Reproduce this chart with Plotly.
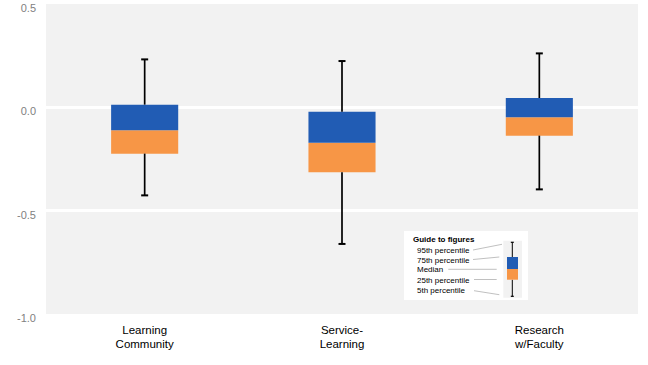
import plotly.graph_objects as go

# ---- data ----
categories = ["Learning<br>Community", "Service-<br>Learning", "Research<br>w/Faculty"]
p95 = [0.232, 0.224, 0.261]
q3 = [0.013, -0.021, 0.045]
median = [-0.111, -0.171, -0.048]
q1 = [-0.224, -0.314, -0.137]
p5 = [-0.426, -0.661, -0.397]
y_ticks = [0.5, 0.0, -0.5, -1.0]
y_tick_text = ["0.5", "0.0", "-0.5", "-1.0"]
guide_labels = ["95th percentile", "75th percentile", "Median", "25th percentile", "5th percentile"]

BLUE = "rgb(33,92,180)"
ORANGE = "rgb(247,150,70)"
W, H = 648, 365
ML, MR, MT, MB = 46, 10, 4, 51
PW, PH = W - ML - MR, H - MT - MB

fig = go.Figure()

# lower box half (Q1 -> median)
fig.add_trace(go.Bar(x=categories, y=[m - a for m, a in zip(median, q1)], base=q1,
                     marker=dict(color=ORANGE, line=dict(width=0)), width=0.34,
                     showlegend=False, hoverinfo="skip"))
# upper box half (median -> Q3)
fig.add_trace(go.Bar(x=categories, y=[b - m for b, m in zip(q3, median)], base=median,
                     marker=dict(color=BLUE, line=dict(width=0)), width=0.34,
                     showlegend=False, hoverinfo="skip"))

# whiskers
wx, wy = [], []
for c, a, b, c1, c2 in zip(categories, q3, p95, q1, p5):
    wx += [c, c, None, c, c, None]
    wy += [a, b, None, c1, c2, None]
fig.add_trace(go.Scatter(x=wx, y=wy, mode="lines", line=dict(color="black", width=1.7),
                         connectgaps=False, showlegend=False, hoverinfo="skip"))
# caps
fig.add_trace(go.Scatter(x=categories + categories, y=p95 + p5, mode="markers",
                         marker=dict(symbol="line-ew", size=5, line=dict(color="black", width=2)),
                         showlegend=False, hoverinfo="skip"))

# ---- guide inset (paper coordinates from pixel positions) ----
def px(x):
    return (x - ML) / PW

def py(y):
    return (H - MB - y) / PH

shapes = []
def rect(x0, y0, x1, y1, color):
    shapes.append(dict(type="rect", xref="paper", yref="paper", x0=px(x0), x1=px(x1),
                       y0=py(y1), y1=py(y0), fillcolor=color, line=dict(width=0), layer="above"))

def line(x0, y0, x1, y1, color, width):
    shapes.append(dict(type="line", xref="paper", yref="paper", x0=px(x0), x1=px(x1),
                       y0=py(y0), y1=py(y1), line=dict(color=color, width=width), layer="above"))

rect(404, 231, 528, 300, "white")
rect(503.3, 240.7, 522, 297.7, "#f2f2f2")
line(512.3, 242.3, 512.3, 257, "black", 1)
line(512.3, 279.7, 512.3, 296.3, "black", 1)
line(510.8, 242.3, 513.8, 242.3, "black", 1.2)
line(510.8, 296.3, 513.8, 296.3, "black", 1.2)
rect(507, 257, 518, 269, BLUE)
rect(507, 269, 518, 279.7, ORANGE)
conn = [(473, 250, 502, 244.3), (473, 259.5, 499.3, 257), (448.3, 269.3, 496.7, 269.3),
        (474, 279.5, 496.7, 279.5), (474, 290.7, 499.3, 294.7)]
for x0, y0, x1, y1 in conn:
    line(x0, y0, x1, y1, "#b0b0b0", 0.8)

annotations = [dict(text="<b>Guide to figures</b>", xref="paper", yref="paper", x=px(410.5), y=py(240),
                    xanchor="left", yanchor="middle", showarrow=False,
                    font=dict(family="Liberation Sans", size=8, color="#000"))]
label_y = [250.3, 260, 269.7, 280.3, 290.3]
for t, yy in zip(guide_labels, label_y):
    annotations.append(dict(text=t, xref="paper", yref="paper", x=px(414.5), y=py(yy),
                            xanchor="left", yanchor="middle", showarrow=False,
                            font=dict(family="Liberation Sans", size=8, color="#000")))

fig.update_layout(
    width=W, height=H,
    margin=dict(l=ML, r=MR, t=MT, b=MB),
    paper_bgcolor="white", plot_bgcolor="#f2f2f2",
    barmode="overlay",
    shapes=shapes, annotations=annotations,
    font=dict(family="Liberation Sans"),
    xaxis=dict(type="category", showgrid=False, zeroline=False, showline=False,
               automargin=False,
               tickfont=dict(family="Liberation Sans", size=11.5, color="black"),
               ticks="", ticklabelstandoff=7, range=[-0.5, 2.5]),
    yaxis=dict(range=[-1.0, 0.5], tickvals=y_ticks, ticktext=y_tick_text,
               automargin=False,
               showgrid=True, gridcolor="white", gridwidth=3, zeroline=False, showline=False,
               tickfont=dict(family="Liberation Sans", size=11, color="#7f7f7f"),
               ticks="", ticklabelstandoff=9, ticklabelshift=4),
)

fig.write_html("out.html", config={"displayModeBar": False},
               post_script="document.body.style.margin='0px';document.body.style.padding='0px';")
